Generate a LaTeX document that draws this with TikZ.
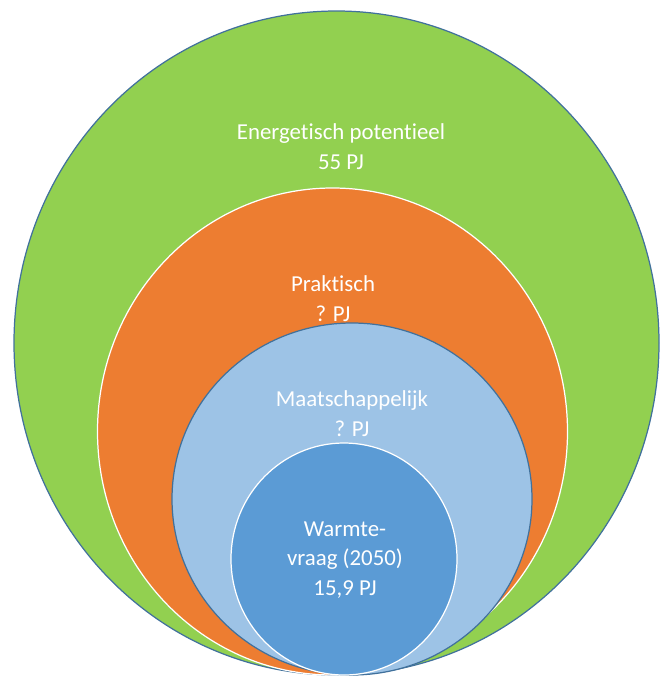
\documentclass[tikz,border=0pt]{standalone}
\usepackage{fontspec}
\setmainfont{Carlito}[Ligatures=NoCommon]
\usepackage{tikz}
\usetikzlibrary{positioning}
\definecolor{potgreen}{HTML}{92D050}
\definecolor{praktorange}{HTML}{ED7D31}
\definecolor{maatblue}{HTML}{9DC3E6}
\definecolor{vraagblue}{HTML}{5B9BD5}
\definecolor{edgeblue}{HTML}{41719C}
\tikzset{
  ring/.style      = {line width=0.7pt},
  ringdark/.style  = {ring, draw=edgeblue},
  ringlight/.style = {ring, draw=white},
  ringtext/.style  = {text=white, align=center, inner sep=0pt,
                      font=\fontsize{13}{17}\selectfont},
}

\begin{document}
\begin{tikzpicture}[x=0.02cm, y=-0.02cm]
  \useasboundingbox (0,0) rectangle (660,677);

  % nested rings, all touching at the bottom
  \filldraw[ringdark, fill=potgreen]     (336.5,343) ellipse [x radius=322.5, y radius=332];
  \filldraw[ringlight, fill=praktorange] (332.5,431.5) ellipse [x radius=235, y radius=243.5];
  \filldraw[ringdark, fill=maatblue]     (352,499) ellipse [x radius=180, y radius=176];
  \filldraw[ringlight, fill=vraagblue]   (344,559) ellipse [x radius=113, y radius=116];

  \node[ringtext] (potentieel) at (341,147) {Energetisch potentieel\\55 PJ};
  \node[ringtext] (praktisch)  at (333,299) {Praktisch\\? PJ};
  \node[ringtext] (maatsch)    at (352,414) {Maatschappelijk\\? PJ};
  \node[ringtext] (vraag)      at (345,560) {Warmte-\\vraag (2050)\\15,9 PJ};
\end{tikzpicture}
\end{document}
